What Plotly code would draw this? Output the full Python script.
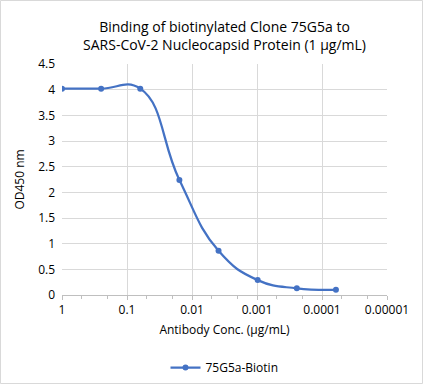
import plotly.graph_objects as go

conc = [1, 0.25, 0.0625, 0.015625, 0.00390625, 0.0009765625, 0.000244140625, 0.00006103515625]
od450 = [4.02, 4.02, 4.02, 2.24, 0.86, 0.29, 0.13, 0.10]
series_name = "75G5a-Biotin"
x_tickvals = [1, 0.1, 0.01, 0.001, 0.0001, 0.00001]
x_ticktext = ["1", "0.1", "0.01", "0.001", "0.0001", "0.00001"]
y_tickvals = [0, 0.5, 1, 1.5, 2, 2.5, 3, 3.5, 4, 4.5]
y_ticktext = ["0", "0.5", "1", "1.5", "2", "2.5", "3", "3.5", "4", "4.5"]

W, H = 423, 384
L, R, T, B = 62, 36, 64, 89
pw, ph = W - L - R, H - T - B

font = "Open Sans"
fig = go.Figure()
fig.add_trace(go.Scatter(
    x=conc, y=od450, name=series_name, mode="lines+markers",
    line=dict(color="#4472C4", width=2.25, shape="spline", smoothing=1.3),
    marker=dict(color="#4472C4", size=6),
))

fig.update_layout(
    width=W, height=H,
    margin=dict(l=L, r=R, t=T, b=B, autoexpand=False),
    paper_bgcolor="white", plot_bgcolor="white",
    font=dict(family=font, size=12, color="#000000"),
    title=dict(
        text="Binding of biotinylated Clone 75G5a to<br>SARS-CoV-2 Nucleocapsid Protein (1 μg/mL)",
        x=(L + pw / 2) / W, xanchor="center", y=1 - 32 / H, yanchor="top",
        font=dict(family=font, size=14, color="#000000"),
    ),
    showlegend=True,
    legend=dict(orientation="h", x=0.5, xanchor="center", xref="paper",
                y=-(353 - (H - B)) / ph, yanchor="top",
                font=dict(family=font, size=12, color="#000000"),
                itemwidth=30),
    xaxis=dict(
        type="log", range=[0, -5],
        tickvals=x_tickvals, ticktext=x_ticktext,
        showgrid=True, gridcolor="#d9d9d9", gridwidth=1,
        showline=True, linecolor="#bfbfbf", linewidth=1,
        ticks="outside", ticklen=4, tickcolor="#bfbfbf",
        minor=dict(ticks="outside", ticklen=3, tickcolor="#bfbfbf", showgrid=False),
        zeroline=False,
        title=dict(text="Antibody Conc. (μg/mL)", font=dict(family=font, size=12), standoff=8),
        tickfont=dict(family=font, size=12),
    ),
    yaxis=dict(
        range=[0, 4.5],
        tickvals=y_tickvals, ticktext=y_ticktext,
        showgrid=True, gridcolor="#d9d9d9", gridwidth=1,
        showline=False, zeroline=False,
        ticks="", ticklabelstandoff=6,
        title=dict(text="OD450 nm", font=dict(family=font, size=12), standoff=10),
        tickfont=dict(family=font, size=12),
    ),
    shapes=[dict(type="rect", xref="paper", yref="paper",
                 x0=(0.5 - L) / pw, x1=(W - 0.5 - L) / pw,
                 y0=-(H - 0.5 - (H - B)) / ph, y1=(H - B - 0.5) / ph,
                 line=dict(color="#d9d9d9", width=1), layer="below")],
)

fig.write_html("out.html", config={"displayModeBar": False},
               post_script="document.body.style.margin='0';document.body.style.overflow='hidden';")
